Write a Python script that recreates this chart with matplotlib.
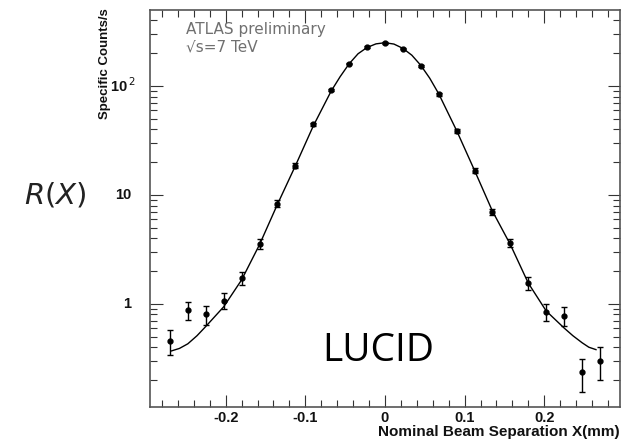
import numpy as np
import matplotlib
matplotlib.use("Agg")
import matplotlib.pyplot as plt
from matplotlib.ticker import FixedLocator, MultipleLocator, LogLocator, NullFormatter

# measured points (beam separation in mm, specific counts/s)
sep = [-0.27, -0.2475, -0.225, -0.2025, -0.18, -0.1575, -0.135, -0.1125, -0.09,
       -0.0675, -0.045, -0.0225, 0.0, 0.0225, 0.045, 0.0675, 0.09, 0.1125,
       0.135, 0.1575, 0.18, 0.2025, 0.225, 0.2475, 0.27]
rate = [0.46, 0.87, 0.80, 1.07, 1.73, 3.55, 8.3, 18.6, 44.5, 92, 161, 229, 249,
        221, 153, 84, 38.7, 16.7, 7.0, 3.6, 1.55, 0.85, 0.78, 0.235, 0.30]
rate_err = [0.12, 0.16, 0.16, 0.18, 0.25, 0.35, 0.6, 0.9, 1.5, 2.5, 3.0, 3.5, 3.5,
            3.5, 3.0, 2.5, 1.5, 0.8, 0.5, 0.3, 0.2, 0.15, 0.16, 0.08, 0.10]

# fit curve
fit_x = [-0.268, -0.258, -0.2475, -0.236, -0.225, -0.2025, -0.18, -0.1575, -0.135,
         -0.1125, -0.09, -0.0675, -0.05625, -0.045, -0.03375, -0.0225, -0.01125, 0.0,
         0.01125, 0.0225, 0.03375, 0.045, 0.05625, 0.0675, 0.09, 0.1125, 0.135,
         0.1575, 0.18, 0.2025, 0.225, 0.236, 0.2475, 0.256, 0.265]
fit_y = [0.37, 0.39, 0.43, 0.51, 0.62, 0.94, 1.66, 3.5, 8.2, 18.5, 43, 90, 122, 160,
         198, 226, 244, 250, 243, 222, 192, 155, 118, 85, 39, 16.8, 7.1, 3.5, 1.55,
         0.86, 0.60, 0.51, 0.44, 0.40, 0.38]

fig = plt.figure(figsize=(6.29, 4.40), dpi=100)
ax = fig.add_axes([0.2385, 0.075, 0.747, 0.902])

ax.plot(fit_x, fit_y, color="black", lw=1.0)
ax.errorbar(sep, rate, yerr=rate_err, fmt="o", ms=3.5, color="black",
            ecolor="black", elinewidth=1.0, capsize=2, capthick=1.0)

ax.set_yscale("log")
ax.set_xlim(-0.295, 0.295)
ax.set_ylim(0.113, 498)

ax.xaxis.set_major_locator(MultipleLocator(0.1))
ax.xaxis.set_minor_locator(MultipleLocator(0.02))
ax.set_xticklabels([])
ax.yaxis.set_major_locator(FixedLocator([1, 10, 100]))
ax.yaxis.set_minor_locator(LogLocator(base=10, subs=np.arange(2, 10)))
ax.yaxis.set_minor_formatter(NullFormatter())
ax.set_yticklabels([])
ax.tick_params(which="both", direction="in", top=True, right=True, width=0.8, color="#333333")
ax.tick_params(which="major", length=9)
ax.tick_params(which="minor", length=5)
for s in ax.spines.values():
    s.set_color("#555555")
    s.set_linewidth(1.2)

bold = dict(family="Liberation Sans", weight="bold", color="#111111")
for xv, lab in zip([-0.2, -0.1, 0.0, 0.1, 0.2], ["-0.2", "-0.1", "0", "0.1", "0.2"]):
    ax.text(xv, -0.011, lab, transform=ax.get_xaxis_transform(), ha="center",
            va="top", fontsize=10.5, **bold)
for yv, lab in zip([1, 10], ["1", "10"]):
    ax.text(-0.04, yv, lab, transform=ax.get_yaxis_transform(), ha="right",
            va="center", fontsize=10.5, **bold)
ax.text(-0.03, 100, r"10$^{\,2}$", transform=ax.get_yaxis_transform(), ha="right",
        va="center", fontsize=10.5, **bold)

fig.text(0.985, 0.018, "Nominal Beam Separation X(mm)", ha="right", va="center",
         fontsize=11, **bold)
fig.text(0.167, 0.982, "Specific Counts/s", ha="center", va="top", rotation=90,
         fontsize=9.5, **bold)
fig.text(0.0875, 0.557, r"$R(X)$", ha="center", va="center", fontsize=21,
         color="#222222")

ax.text(0.077, 0.95, "ATLAS preliminary", transform=ax.transAxes, fontsize=11,
        color="#707070", family="DejaVu Sans", va="center")
ax.text(0.077, 0.907, "\u221as=7 TeV", transform=ax.transAxes, fontsize=11,
        color="#707070", family="DejaVu Sans", va="center")
ax.text(-0.009, 0.14, "LUCID", transform=ax.get_xaxis_transform(), ha="center",
        va="center", fontsize=28, family="Open Sans", color="black")

fig.savefig("out.png", dpi=100)
